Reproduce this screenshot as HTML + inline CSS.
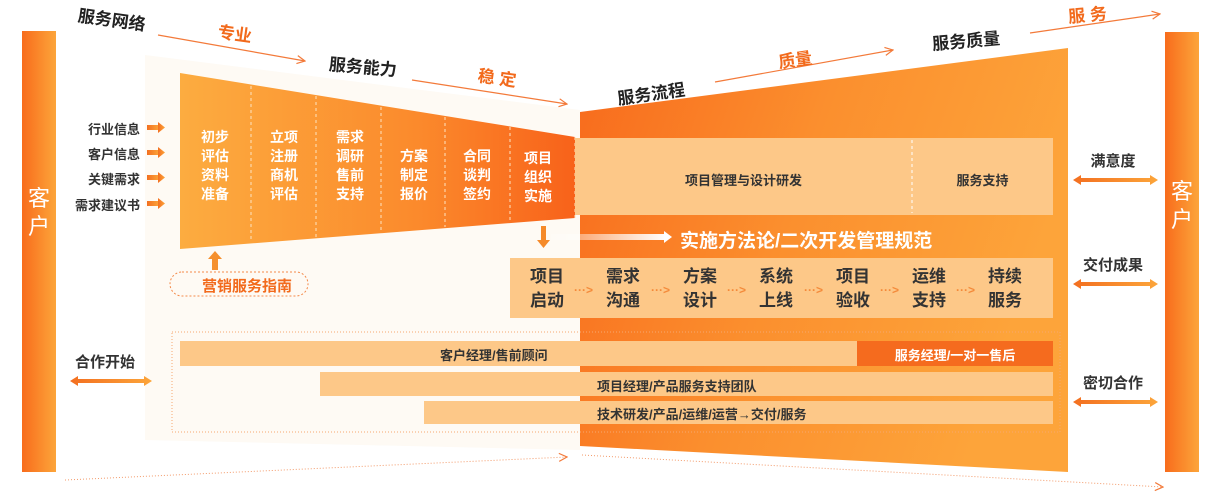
<!DOCTYPE html>
<html><head><meta charset="utf-8"><style>
body{margin:0;width:1223px;height:495px;overflow:hidden;background:#fff;font-family:"Liberation Sans","Noto Sans CJK SC",sans-serif;}
.a{position:absolute;white-space:nowrap}
.col{position:absolute;color:#fff;font-size:14px;line-height:19px;text-align:center;width:60px;font-weight:bold}
.step{position:absolute;color:#333;font-size:17px;line-height:24px;text-align:center;width:50px;font-weight:bold}
.in{position:absolute;color:#333;font-size:13px;right:1083px;text-align:right;white-space:nowrap;font-weight:bold}
.rl{position:absolute;color:#333;font-size:15px;width:100px;text-align:center;left:1063px;font-weight:bold}
.t{position:absolute;font-size:17px;color:#222;white-space:nowrap;font-weight:bold}
.o{color:#f26a1c;font-weight:bold}
</style></head><body>
<svg width="1223" height="495" style="position:absolute;left:0;top:0">
<defs>
<linearGradient id="lf" x1="0" x2="1"><stop offset="0" stop-color="#fcac40"/><stop offset="0.6" stop-color="#fb8a2c"/><stop offset="1" stop-color="#f8621a"/></linearGradient>
<linearGradient id="rf" x1="0" x2="1" y1="0" y2="0.3"><stop offset="0" stop-color="#f86a1c"/><stop offset="0.5" stop-color="#fb8f2e"/><stop offset="1" stop-color="#fda43a"/></linearGradient>
<linearGradient id="bar" x1="0" x2="1"><stop offset="0" stop-color="#f86c1c"/><stop offset="1" stop-color="#fca53a"/></linearGradient>
<linearGradient id="ar" x1="0" x2="1"><stop offset="0" stop-color="#f36f20"/><stop offset="1" stop-color="#fca53a"/></linearGradient>
<linearGradient id="wl" x1="0" x2="1"><stop offset="0" stop-color="#fff" stop-opacity="0.2"/><stop offset="1" stop-color="#fff"/></linearGradient>
<marker id="m" markerWidth="10" markerHeight="10" refX="9" refY="5" orient="auto" markerUnits="userSpaceOnUse"><path d="M1,1 L9,5 L1,9" fill="none" stroke="#f37a3a" stroke-width="1.2"/></marker>
</defs>
<polygon points="145,55 580,110 580,450 145,440" fill="#fefaf4"/>
<rect x="22" y="31" width="34" height="441" fill="url(#bar)"/>
<rect x="1165" y="32" width="34" height="440" fill="url(#bar)"/>
<polygon points="580,112 1068,48 1068,472 580,446" fill="url(#rf)"/>
<polygon points="180,73 575,137 575,218 180,249" fill="url(#lf)"/>
<g stroke="#fde3c0" stroke-dasharray="3,3" stroke-width="1">
<line x1="251" y1="86" x2="251" y2="242"/><line x1="316" y1="96" x2="316" y2="237"/><line x1="381" y1="107" x2="381" y2="232"/><line x1="445" y1="117" x2="445" y2="227"/><line x1="510" y1="127" x2="510" y2="222"/><line x1="575" y1="137" x2="575" y2="218"/>
</g>
<rect x="575" y="138" width="478" height="77" fill="#fdc888"/>
<line x1="912" y1="140" x2="912" y2="213" stroke="#fff" stroke-dasharray="3,3"/>
<rect x="510" y="258" width="543" height="60" fill="#fdc888"/>
<rect x="172" y="332" width="888" height="100" fill="none" stroke="#f6a870" stroke-dasharray="1,2"/>
<rect x="180" y="341" width="873" height="25" fill="#fdc888"/>
<rect x="857" y="341" width="196" height="25" fill="#f56b1e"/>
<rect x="320" y="372" width="733" height="24" fill="#fdc888"/>
<rect x="424" y="401" width="629" height="23" fill="#fdc888"/>
<rect x="551" y="234" width="115" height="6" fill="url(#wl)"/>
<polygon points="664,231 672,237 664,243" fill="#fff"/>
<rect x="541" y="226" width="5" height="14" fill="#f58a2a"/><polygon points="537,240 550,240 543.5,248" fill="#f58a2a"/>
<rect x="212" y="258" width="6" height="12" fill="#f5902e"/><polygon points="208,259 222,259 215,251" fill="#f5902e"/>
<rect x="170" y="272" width="138" height="24" rx="12" fill="none" stroke="#f48a4a" stroke-dasharray="2,2"/>
<g fill="url(#ar)">
<g id="sa"><rect x="147" y="125" width="12" height="5"/><polygon points="158,122 165,127.5 158,133"/></g>
<use href="#sa" y="25"/><use href="#sa" y="50"/><use href="#sa" y="76"/>
<g id="da"><polygon points="1073,180 1081,175 1081,178 1150,178 1150,175 1158,180 1150,185 1150,182 1081,182 1081,185"/></g>
<use href="#da" y="104"/><use href="#da" y="222"/>
<polygon points="70,381 78,376 78,379 144,379 144,376 152,381 144,386 144,383 78,383 78,386"/>
</g>
<g stroke="#f37a3a" stroke-width="1.2" fill="none" marker-end="url(#m)">
<line x1="158" y1="35" x2="305" y2="61"/>
<line x1="412" y1="80" x2="567" y2="104"/>
<line x1="715" y1="82" x2="893" y2="50"/>
<line x1="1030" y1="33" x2="1160" y2="14"/>
</g>
<g stroke="#f39a6a" stroke-width="1" fill="none" stroke-dasharray="1,2" marker-end="url(#m)">
<line x1="65" y1="480" x2="567" y2="457"/>
<line x1="582" y1="455" x2="1163" y2="487"/>
</g>
<g fill="#f48a3a" font-size="12" font-weight="bold" font-family="Liberation Sans">
<text x="574" y="294">···&gt;</text><text x="651" y="294">···&gt;</text><text x="727" y="294">···&gt;</text><text x="804" y="294">···&gt;</text><text x="880" y="294">···&gt;</text><text x="956" y="294">···&gt;</text>
</g>
</svg>
<div class="a" style="left:28px;top:185px;width:22px;color:#fff;font-size:22px;line-height:28px;text-align:center;white-space:normal">客户</div>
<div class="a" style="left:1171px;top:178px;width:22px;color:#fff;font-size:22px;line-height:28px;text-align:center;white-space:normal">客户</div>
<div class="t" style="left:78px;top:6px;transform:rotate(8deg)">服务网络</div>
<div class="t o" style="left:218px;top:20px;transform:rotate(8deg)">专业</div>
<div class="t" style="left:329px;top:53px;transform:rotate(5deg)">服务能力</div>
<div class="t o" style="left:478px;top:64px;transform:rotate(8deg)">稳 定</div>
<div class="t" style="left:617px;top:80px;transform:rotate(-8deg)">服务流程</div>
<div class="t o" style="left:778px;top:46px;transform:rotate(-8deg)">质量</div>
<div class="t" style="left:932px;top:27px;transform:rotate(-5deg)">服务质量</div>
<div class="t o" style="left:1068px;top:1px;transform:rotate(-5deg)">服 务</div>
<div class="in" style="top:119px">行业信息</div>
<div class="in" style="top:144px">客户信息</div>
<div class="in" style="top:169px">关键需求</div>
<div class="in" style="top:195px">需求建议书</div>
<div class="col" style="left:185px;top:128px">初步<br>评估<br>资料<br>准备</div>
<div class="col" style="left:254px;top:128px">立项<br>注册<br>商机<br>评估</div>
<div class="col" style="left:320px;top:128px">需求<br>调研<br>售前<br>支持</div>
<div class="col" style="left:384px;top:147px">方案<br>制定<br>报价</div>
<div class="col" style="left:447px;top:147px">合同<br>谈判<br>签约</div>
<div class="col" style="left:508px;top:149px">项目<br>组织<br>实施</div>
<div class="a" style="left:575px;top:170px;width:337px;text-align:center;font-size:13px;color:#333;font-weight:bold">项目管理与设计研发</div>
<div class="a" style="left:912px;top:170px;width:141px;text-align:center;font-size:13px;color:#333;font-weight:bold">服务支持</div>
<div class="a" style="left:680px;top:226px;font-size:19px;color:#fff;font-weight:bold">实施方法论/二次开发管理规范</div>
<div class="a" style="left:178px;top:275px;font-size:15px;color:#f26a1c;font-weight:bold;width:138px;text-align:center">营销服务指南</div>
<div class="step" style="left:522px;top:265px">项目<br>启动</div>
<div class="step" style="left:598px;top:265px">需求<br>沟通</div>
<div class="step" style="left:675px;top:265px">方案<br>设计</div>
<div class="step" style="left:751px;top:265px">系统<br>上线</div>
<div class="step" style="left:828px;top:265px">项目<br>验收</div>
<div class="step" style="left:904px;top:265px">运维<br>支持</div>
<div class="step" style="left:980px;top:265px">持续<br>服务</div>
<div class="a" style="left:440px;top:345px;font-size:13px;color:#333;font-weight:bold">客户经理/售前顾问</div>
<div class="a" style="left:857px;top:345px;width:196px;text-align:center;font-size:13px;color:#fff;font-weight:bold">服务经理/一对一售后</div>
<div class="a" style="left:597px;top:376px;font-size:13px;color:#333;font-weight:bold">项目经理/产品服务支持团队</div>
<div class="a" style="left:597px;top:404px;font-size:13px;color:#333;font-weight:bold">技术研发/产品/运维/运营→交付/服务</div>
<div class="a" style="left:75px;top:351px;font-size:15px;color:#333;font-weight:bold">合作开始</div>
<div class="rl" style="top:150px">满意度</div>
<div class="rl" style="top:254px">交付成果</div>
<div class="rl" style="top:372px">密切合作</div>
</body></html>
